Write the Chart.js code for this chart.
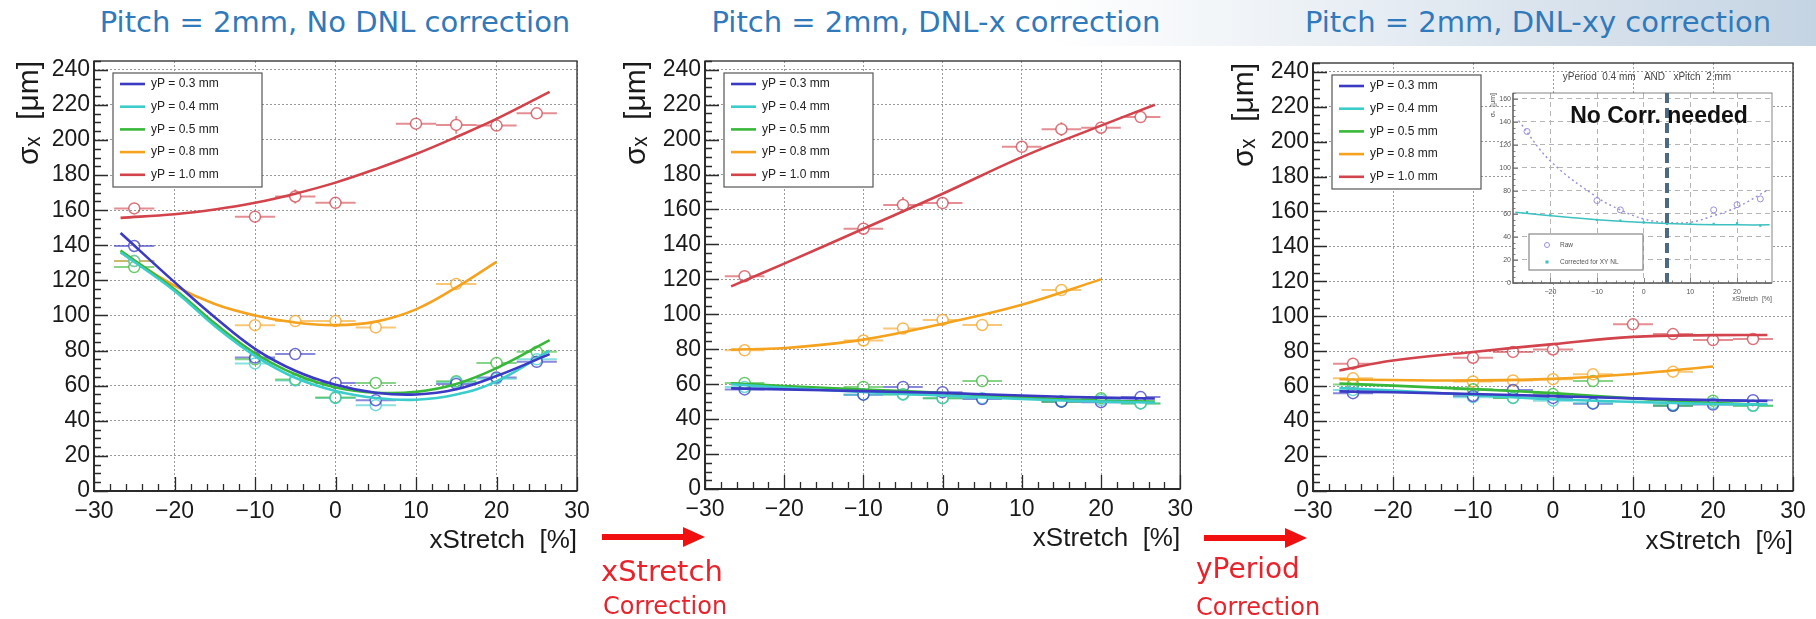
<!DOCTYPE html>
<html>
<head>
<meta charset="utf-8">
<script src="https://cdn.jsdelivr.net/npm/chart.js@4.4.1/dist/chart.umd.min.js"></script>
<style>
  body { margin: 0; width: 1816px; height: 619px; background: #fff; position: relative; overflow: hidden; font-family: "DejaVu Sans", sans-serif; }
  .band { position: absolute; left: 1050px; top: 0; width: 766px; height: 46px; background: linear-gradient(to right, rgba(255,255,255,0), #c5d4e3); }
  .ttl { position: absolute; top: 2px; color: #3079bb; font-size: 29px; line-height: 40px; white-space: nowrap; transform: translateX(-50%); }
  .corr { position: absolute; color: #e8232b; white-space: nowrap; line-height: 1; }
  canvas { position: absolute; }
  svg { position: absolute; left: 0; top: 0; }
</style>
</head>
<body>
<div class="band"></div>
<div class="ttl" style="left:335px">Pitch = 2mm, No DNL correction</div>
<div class="ttl" style="left:936px">Pitch = 2mm, DNL-x correction</div>
<div class="ttl" style="left:1538px">Pitch = 2mm, DNL-xy correction</div>

<canvas id="p1" width="600" height="530" style="left:0px;top:40px"></canvas>
<canvas id="p2" width="600" height="530" style="left:600px;top:40px"></canvas>
<canvas id="p3" width="616" height="530" style="left:1200px;top:40px"></canvas>
<canvas id="inset" width="310" height="240" style="left:1480px;top:66px"></canvas>

<svg width="1816" height="619">
  <rect x="602" y="534" width="84" height="6" fill="#f01010"/>
  <polygon points="683,527 705,537 683,547" fill="#f01010"/>
  <rect x="1204" y="535" width="84" height="6" fill="#f01010"/>
  <polygon points="1285,528 1307,538 1285,548" fill="#f01010"/>
</svg>
<div class="corr" style="left:601px;top:557px;font-size:29px">xStretch</div>
<div class="corr" style="left:603px;top:594px;font-size:24px">Correction</div>
<div class="corr" style="left:1196px;top:555px;font-size:28px">yPeriod</div>
<div class="corr" style="left:1196px;top:595px;font-size:24px">Correction</div>

<script>
// ---- data ----
const xVals = [-25, -10, -5, 0, 5, 10, 15, 20, 25];
const seriesNames = ['yP = 0.3 mm', 'yP = 0.4 mm', 'yP = 0.5 mm', 'yP = 0.8 mm', 'yP = 1.0 mm'];
const seriesColors = ['#3a3ac4', '#3ccccc', '#38b838', '#f5a21e', '#d2434c'];
const xTicks = [-30, -20, -10, 0, 10, 20, 30];
const yTicks = [0, 20, 40, 60, 80, 100, 120, 140, 160, 180, 200, 220, 240];
const xErr = 2.5;
const baseYErr = 1.5;

// panel 1: no DNL correction
const p1_03 = [139.6, 76, 78, 61.6, 51.7, null, 61, 64.7, 73.6];
const p1_04 = [131, 72.7, 63, 53, 48.9, null, 62, 64, 75];
const p1_05 = [127.6, 75, 63.5, 53.3, 61.6, null, 62.6, 73, 79.3];
const p1_08 = [131, 94.5, 96.8, 96.8, 93.2, null, 118, null, null];
const p1_10 = [161, 156.3, 167.8, 164.2, null, 209.3, 208.6, 208.2, 215.2];
const p1_10err = [1.5, 1.5, 4, 1.5, 0, 2, 5, 2, 1.5];
const p1FitX = [-26.7, -20, -15, -10, -5, 0, 5, 10, 15, 20, 26.6];
const p1Fit_03 = [147, 119, 99, 81, 68.5, 60.5, 56, 55, 58, 65.5, 78];
const p1Fit_04 = [136, 114, 94, 77, 64.5, 57, 53, 52, 55, 62.5, 80];
const p1Fit_05 = [137, 115, 95.5, 78.5, 66.5, 59, 56, 56.5, 61, 70, 86];
const p1Fit_08 = [136, 117, 106.5, 100, 96, 94.5, 96.5, 103.5, 116, 130.6, null];
const p1Fit_10 = [155.6, 157.7, 160.4, 164.2, 169.4, 175.7, 183.4, 192, 201.7, 212, 227.4];

// panel 2: DNL-x correction
const p2_03 = [57, 54, 58.4, 55.4, 51.5, null, 50, 49.7, 52.6];
const p2_04 = [58.4, 54, 54, 52, 52, null, 50.3, 51, 49];
const p2_05 = [60.7, 58.4, 54.3, 52, 61.8, null, 50, 52, 49];
const p2_08 = [79.4, 85, 91.9, 96.8, 93.9, null, 113.9, null, null];
const p2_10 = [121.8, 149, 162.6, 163.7, null, 195.9, 206, 206.8, 212.9];
const p2_10err = [1.5, 1.5, 4.5, 1.5, 0, 1.5, 4, 1.5, 1.5];
const p2FitX = [-26.7, -20, -10, 0, 10, 20, 26.8];
const p2Fit_03 = [57.6, 57, 56, 55, 53.5, 52.3, 51.8];
const p2Fit_04 = [60, 58, 55.5, 53.5, 51.5, 50, 49.5];
const p2Fit_05 = [60.5, 59, 57, 55, 52.5, 50.5, 50];
const p2Fit_08 = [79.8, 80.7, 85.5, 94.6, 105.5, 120, null];
const p2Fit_10 = [116, 129, 149, 169, 190, 208, 220];

// panel 3: DNL-xy correction
const p3_03 = [56, 54.4, 57.8, 53.3, 50, null, 48.8, 49.5, 52];
const p3_04 = [57.8, 53.7, 53.3, 51.7, 50.3, null, 49.4, 50.3, 48.8];
const p3_05 = [61, 58.2, 53.3, 55.5, 62.9, null, 48.8, 51.7, 48.8];
const p3_08 = [64.5, 62.7, 63.3, 64, 66.8, null, 68.3, null, null];
const p3_10 = [72.9, 76.3, 79.6, 81, null, 95.4, 89.8, 86.4, 87];
const p3_10err = [2, 1.5, 2, 2, 0, 2.5, 2, 2, 1.5];
const p3FitX = [-26.7, -20, -10, 0, 10, 20, 26.8];
const p3Fit_03 = [57, 56.5, 55.5, 54.3, 53, 52, 51.5];
const p3Fit_04 = [59, 57.5, 55, 52.5, 51, 49.8, 49.5];
const p3Fit_05 = [61.5, 60.3, 58.3, 56, 53, 50.3, 49.4];
const p3Fit_08 = [64, 63.5, 63.3, 64.2, 67, 71.3, null];
const p3Fit_10 = [69, 74.7, 79.6, 84.1, 88.2, 89.2, 89.3];

// inset: yPeriod 0.4 mm AND xPitch 2 mm
const insetX = [-25, -20, -10, -5, 0, 5, 10, 15, 20, 25];
const insetRaw = [131.6, null, 71.6, 63.5, null, null, null, 63.5, 68, 73];
const insetCorr = [61.4, 59, 54.8, 54.2, 52.7, 51.3, 51.3, 51.3, 51.9, 49.8];
const insetRawFitX = [-26.8, -20, -10, -5, 0, 5, 10, 15, 20, 26.6];
const insetRawFit = [141, 106, 74.5, 63.5, 55.6, 52.7, 52.7, 58.5, 65.8, 80.8];
const insetCorrFitX = [-27.5, -20, -10, 0, 10, 20, 27];
const insetCorrFit = [61.5, 58.5, 55, 52.5, 51, 50.5, 50.5];
const insetXTicks = [-20, -10, 0, 10, 20];
const insetYTicks = [0, 20, 40, 60, 80, 100, 120, 140, 160];
const noCorrX = 5;

// ---- helpers ----
const ROOT_FONT = "'Liberation Sans', Arial, sans-serif";
const minusFmt = v => v < 0 ? '\u2212' + Math.abs(v) : String(v);

function fade(hex, a) {
  const n = parseInt(hex.slice(1), 16);
  return `rgba(${n >> 16},${(n >> 8) & 255},${n & 255},${a})`;
}
function pts(xs, ys, errY) {
  const out = [];
  xs.forEach((x, i) => { if (ys[i] !== null) out.push({x, y: ys[i], ey: errY ? errY[i] : baseYErr}); });
  return out;
}
function curve(xs, ys) {
  return xs.map((x, i) => ({x, y: ys[i]})).filter(p => p.y !== null);
}

// horizontal/vertical error bars, broken around the marker
const errorBars = {
  id: 'errorBars',
  beforeDatasetsDraw(chart) {
    const {ctx, scales: {x, y}} = chart;
    ctx.save();
    ctx.beginPath();
    ctx.rect(chart.chartArea.left, chart.chartArea.top, chart.chartArea.width, chart.chartArea.height);
    ctx.clip();
    chart.data.datasets.forEach(ds => {
      if (!ds.errX) return;
      ctx.strokeStyle = ds.errColor;
      ctx.lineWidth = 2;
      const r = ds.pointRadius;
      ds.data.forEach(p => {
        const px = x.getPixelForValue(p.x), py = y.getPixelForValue(p.y);
        const x0 = x.getPixelForValue(p.x - ds.errX), x1 = x.getPixelForValue(p.x + ds.errX);
        ctx.beginPath();
        ctx.moveTo(x0, py); ctx.lineTo(px - r, py);
        ctx.moveTo(px + r, py); ctx.lineTo(x1, py);
        const dy = Math.abs(y.getPixelForValue(p.y + p.ey) - py);
        if (dy > r) {
          ctx.moveTo(px, py - dy); ctx.lineTo(px, py - r);
          ctx.moveTo(px, py + r); ctx.lineTo(px, py + dy);
        }
        ctx.stroke();
      });
    });
    ctx.restore();
  }
};

// ROOT-like frame with inward ticks
const frameTicks = {
  id: 'frameTicks',
  afterDatasetsDraw(chart, args, o) {
    const {ctx, chartArea: a, scales: {x, y}} = chart;
    ctx.save();
    ctx.strokeStyle = o.color;
    ctx.lineWidth = o.width;
    ctx.beginPath();
    for (let v = Math.ceil(y.min / o.yMinor) * o.yMinor; v <= y.max; v += o.yMinor) {
      const py = Math.round(y.getPixelForValue(v)) + 0.5;
      const len = (Math.round(v) % o.yMajor === 0) ? o.major : o.minor;
      ctx.moveTo(a.left, py); ctx.lineTo(a.left + len, py);
    }
    for (let v = Math.ceil(x.min / o.xMinor) * o.xMinor; v <= x.max; v += o.xMinor) {
      const px = Math.round(x.getPixelForValue(v)) + 0.5;
      const len = (Math.round(v) % o.xMajor === 0) ? o.major : o.minor;
      ctx.moveTo(px, a.bottom); ctx.lineTo(px, a.bottom - len);
    }
    ctx.stroke();
    ctx.strokeRect(a.left, a.top, a.width, a.height);
    ctx.lineWidth = o.width + 0.6;
    ctx.beginPath();
    ctx.moveTo(a.left, a.top); ctx.lineTo(a.left, a.bottom); ctx.lineTo(a.right, a.bottom);
    ctx.stroke();
    ctx.restore();
  }
};

// boxed legend inside the plot area
const boxLegend = {
  id: 'boxLegend',
  afterDraw(chart, args, o) {
    if (!o.items) return;
    const {ctx, chartArea: a} = chart;
    const bx = a.left + o.dx, by = a.top + o.dy;
    ctx.save();
    ctx.fillStyle = '#fff';
    ctx.fillRect(bx, by, o.w, o.h);
    ctx.strokeStyle = o.border;
    ctx.lineWidth = 1.2;
    ctx.strokeRect(bx, by, o.w, o.h);
    ctx.font = o.font;
    ctx.textBaseline = 'middle';
    o.items.forEach((it, i) => {
      const yy = by + o.row0 + i * o.rowH;
      ctx.strokeStyle = it.color;
      ctx.fillStyle = it.color;
      if (it.kind === 'line') {
        ctx.lineWidth = 2.6;
        ctx.beginPath(); ctx.moveTo(bx + o.s0, yy); ctx.lineTo(bx + o.s1, yy); ctx.stroke();
      } else if (it.kind === 'circle') {
        ctx.lineWidth = 1;
        ctx.beginPath(); ctx.arc(bx + o.s0, yy, 2.5, 0, Math.PI * 2); ctx.stroke();
      } else {
        ctx.fillRect(bx + o.s0 - 1.5, yy - 1.5, 3, 3);
      }
      ctx.fillStyle = o.textColor;
      ctx.fillText(it.text, bx + o.textX, yy);
    });
    ctx.restore();
  }
};

// free texts placed relative to the plot area
const areaTexts = {
  id: 'areaTexts',
  afterDraw(chart, args, o) {
    if (!o.items) return;
    const {ctx, chartArea: a} = chart;
    ctx.save();
    ctx.textBaseline = 'middle';
    o.items.forEach(t => {
      ctx.font = t.font;
      ctx.fillStyle = t.color;
      ctx.textAlign = t.align || 'center';
      ctx.fillText(t.text, a.left + t.dx, a.top + t.dy);
    });
    ctx.restore();
  }
};

// white plot background (used by the inset)
const whiteArea = {
  id: 'whiteArea',
  beforeDraw(chart) {
    const {ctx, chartArea: a} = chart;
    ctx.save();
    ctx.fillStyle = '#fff';
    ctx.fillRect(a.left, a.top, a.width, a.height);
    ctx.restore();
  }
};

function makePanel(id, p) {
  const datasets = [];
  p.fits.forEach((ys, k) => datasets.push({
    type: 'line', data: curve(p.fitX, ys), borderColor: seriesColors[k], borderWidth: 2.6,
    pointRadius: 0, fill: false, tension: 0.4
  }));
  p.points.forEach((ys, k) => datasets.push({
    type: 'scatter', data: pts(xVals, ys, k === 4 ? p.redErr : null),
    borderColor: fade(seriesColors[k], 0.75), backgroundColor: 'rgba(0,0,0,0)',
    pointRadius: 5.5, borderWidth: 1.5, errX: xErr, errColor: fade(seriesColors[k], 0.6)
  }));

  new Chart(document.getElementById(id), {
    type: 'scatter',
    data: { datasets },
    options: {
      responsive: false, animation: false, devicePixelRatio: 1,
      layout: { padding: { top: p.padTop, right: p.padRight, left: 0, bottom: 0 } },
      plugins: {
        legend: { display: false }, tooltip: { enabled: false },
        frameTicks: { color: '#2a2a2a', width: 1.3, yMinor: 5, yMajor: 20, xMinor: 2, xMajor: 10, major: 14, minor: 7 },
        boxLegend: {
          items: seriesNames.map((t, k) => ({ text: t, color: seriesColors[k], kind: 'line' })),
          dx: 19, dy: 12, w: 149, h: 114, row0: 11, rowH: 22.7, s0: 7, s1: 32, textX: 38,
          font: "12px " + ROOT_FONT, textColor: '#222', border: '#555'
        }
      },
      scales: {
        x: {
          type: 'linear', min: -30, max: 30,
          afterBuildTicks: s => { s.ticks = xTicks.map(v => ({ value: v })); },
          afterFit: s => { s.height = p.xAxisH; },
          ticks: { font: { family: ROOT_FONT, size: 23 }, color: '#1a1a1a', padding: 7, autoSkip: false, maxRotation: 0, callback: minusFmt },
          grid: { color: '#9a9a9a', lineWidth: 1, drawTicks: false },
          border: { display: false, dash: [2, 2] },
          title: { display: true, text: 'xStretch  [%]', align: 'end', color: '#1a1a1a',
                   font: { family: ROOT_FONT, size: 26 }, padding: { top: 0, bottom: p.xTitlePad } }
        },
        y: {
          type: 'linear', min: 0, max: 245,
          afterBuildTicks: s => { s.ticks = yTicks.map(v => ({ value: v })); },
          afterFit: s => { s.width = p.yAxisW; },
          ticks: { font: { family: ROOT_FONT, size: 23 }, color: '#1a1a1a', padding: 4, autoSkip: false, callback: minusFmt },
          grid: { color: '#9a9a9a', lineWidth: 1, drawTicks: false },
          border: { display: false, dash: [2, 2] },
          title: { display: true, text: '\u03c3\u2093  [\u03bcm]', align: 'end', color: '#1a1a1a',
                   font: { family: ROOT_FONT, size: 30 }, padding: { top: p.yTitlePad, bottom: 0 } }
        }
      }
    },
    plugins: [errorBars, frameTicks, boxLegend]
  });
}

makePanel('p1', {
  points: [p1_03, p1_04, p1_05, p1_08, p1_10], redErr: p1_10err,
  fitX: p1FitX, fits: [p1Fit_03, p1Fit_04, p1Fit_05, p1Fit_08, p1Fit_10],
  padTop: 21, padRight: 23, yAxisW: 94, xAxisH: 79, xTitlePad: 14, yTitlePad: 12
});
makePanel('p2', {
  points: [p2_03, p2_04, p2_05, p2_08, p2_10], redErr: p2_10err,
  fitX: p2FitX, fits: [p2Fit_03, p2Fit_04, p2Fit_05, p2Fit_08, p2Fit_10],
  padTop: 21, padRight: 16, yAxisW: 105, xAxisH: 81, xTitlePad: 16, yTitlePad: 19
});
makePanel('p3', {
  points: [p3_03, p3_04, p3_05, p3_08, p3_10], redErr: p3_10err,
  fitX: p3FitX, fits: [p3Fit_03, p3Fit_04, p3Fit_05, p3Fit_08, p3Fit_10],
  padTop: 23, padRight: 23, yAxisW: 113, xAxisH: 79, xTitlePad: 13, yTitlePad: 27
});

// ---- inset ----
const rawColor = '#9b90dc';
const corrColor = '#3cc0c0';
new Chart(document.getElementById('inset'), {
  type: 'scatter',
  data: {
    datasets: [
      { type: 'line', data: [{ x: noCorrX, y: 0 }, { x: noCorrX, y: 165 }], borderColor: '#4d6a82',
        borderWidth: 4, borderDash: [10, 5], pointRadius: 0 },
      { type: 'line', data: curve(insetCorrFitX, insetCorrFit), borderColor: corrColor, borderWidth: 1.5,
        pointRadius: 0, tension: 0.4 },
      { type: 'line', data: curve(insetRawFitX, insetRawFit), borderColor: rawColor, borderWidth: 1.5,
        borderDash: [2, 3], pointRadius: 0, tension: 0.4 },
      { type: 'scatter', data: pts(insetX, insetCorr, null), pointStyle: 'rect', pointRadius: 1.6,
        backgroundColor: corrColor, borderColor: corrColor, borderWidth: 0 },
      { type: 'scatter', data: pts(insetX, insetRaw, null), pointRadius: 3, borderWidth: 1,
        borderColor: rawColor, backgroundColor: 'rgba(0,0,0,0)' }
    ]
  },
  options: {
    responsive: false, animation: false, devicePixelRatio: 1,
    layout: { padding: { top: 27, right: 18, left: 0, bottom: 0 } },
    plugins: {
      legend: { display: false }, tooltip: { enabled: false },
      frameTicks: { color: '#666', width: 0.8, yMinor: 5, yMajor: 20, xMinor: 2, xMajor: 10, major: 5, minor: 2.5 },
      boxLegend: {
        items: [{ text: 'Raw', color: rawColor, kind: 'circle' }, { text: 'Corrected for XY NL', color: corrColor, kind: 'dot' }],
        dx: 16, dy: 141, w: 114, h: 36, row0: 11, rowH: 17, s0: 18, s1: 18, textX: 31,
        font: "6.5px " + ROOT_FONT, textColor: '#555', border: '#888'
      },
      areaTexts: {
        items: [
          { text: 'yPeriod  0.4 mm   AND   xPitch  2 mm', dx: 134, dy: -16, font: "10px " + ROOT_FONT, color: '#444' },
          { text: 'No Corr. needed', dx: 146, dy: 24, font: "bold 23px 'Liberation Sans', Arial, sans-serif", color: '#111' }
        ]
      }
    },
    scales: {
      x: {
        type: 'linear', min: -28, max: 27.5,
        afterBuildTicks: s => { s.ticks = insetXTicks.map(v => ({ value: v })); },
        afterFit: s => { s.height = 23; },
        ticks: { font: { family: ROOT_FONT, size: 7 }, color: '#555', padding: 5, autoSkip: false, maxRotation: 0, callback: minusFmt },
        grid: { color: '#b5b5b5', lineWidth: 1, drawTicks: false },
        border: { display: false, dash: [5, 4] },
        title: { display: true, text: 'xStretch  [%]', align: 'end', color: '#555',
                 font: { family: ROOT_FONT, size: 7 }, padding: { top: 0, bottom: 3 } }
      },
      y: {
        type: 'linear', min: 0, max: 165,
        afterBuildTicks: s => { s.ticks = insetYTicks.map(v => ({ value: v })); },
        afterFit: s => { s.width = 33; },
        ticks: { font: { family: ROOT_FONT, size: 7 }, color: '#555', padding: 2, autoSkip: false },
        grid: { color: '#b5b5b5', lineWidth: 1, drawTicks: false },
        border: { display: false, dash: [5, 4] },
        title: { display: true, text: '\u03c3\u2093  [\u03bcm]', align: 'end', color: '#555',
                 font: { family: ROOT_FONT, size: 7 }, padding: { top: 9, bottom: 0 } }
      }
    }
  },
  plugins: [whiteArea, frameTicks, boxLegend, areaTexts]
});
</script>
</body>
</html>
